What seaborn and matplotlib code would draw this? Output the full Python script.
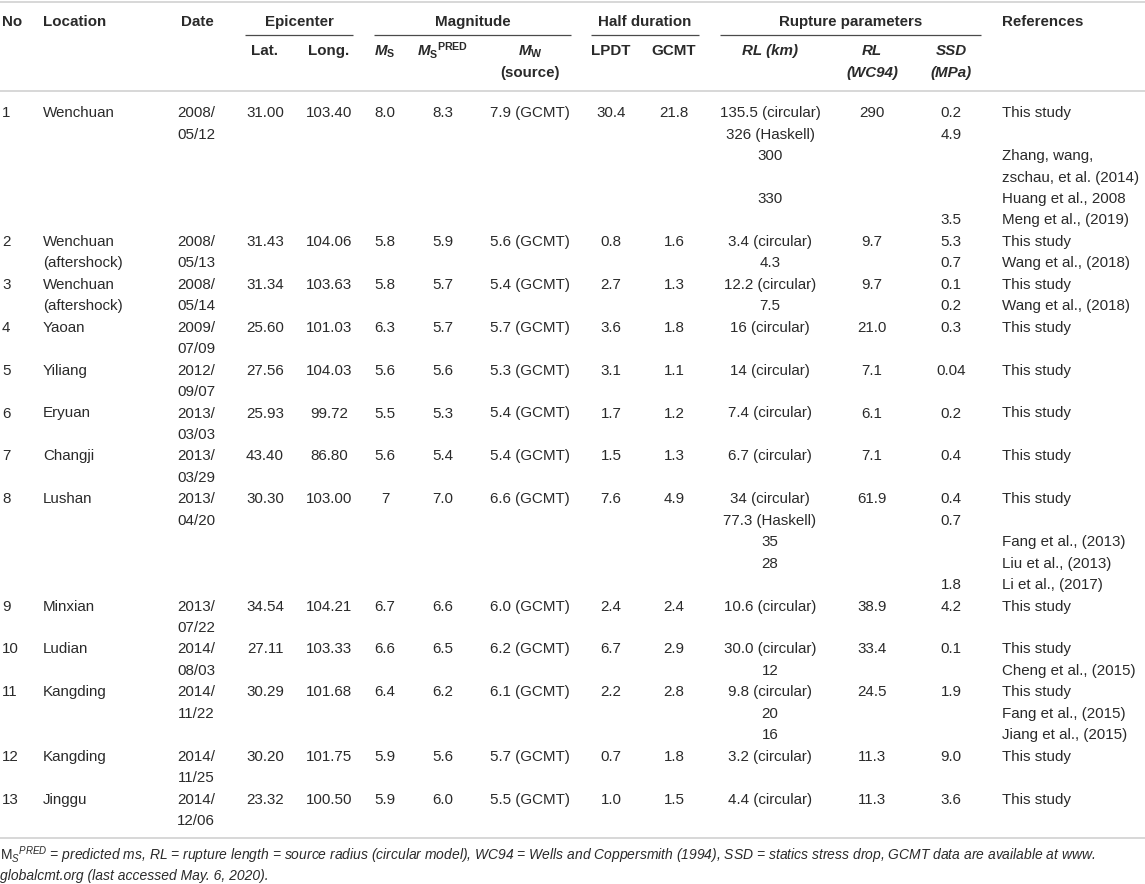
import matplotlib
matplotlib.use("Agg")
import matplotlib.pyplot as plt
import seaborn as sns

# ---------------- data ----------------
no = [str(i) for i in range(1, 14)]
location = ["Wenchuan", "Wenchuan\n(aftershock)", "Wenchuan\n(aftershock)", "Yaoan", "Yiliang",
            "Eryuan", "Changji", "Lushan", "Minxian", "Ludian", "Kangding", "Kangding", "Jinggu"]
date = ["2008/\n05/12", "2008/\n05/13", "2008/\n05/14", "2009/\n07/09", "2012/\n09/07",
        "2013/\n03/03", "2013/\n03/29", "2013/\n04/20", "2013/\n07/22", "2014/\n08/03",
        "2014/\n11/22", "2014/\n11/25", "2014/\n12/06"]
lat = ["31.00", "31.43", "31.34", "25.60", "27.56", "25.93", "43.40", "30.30", "34.54",
       "27.11", "30.29", "30.20", "23.32"]
lon = ["103.40", "104.06", "103.63", "101.03", "104.03", "99.72", "86.80", "103.00", "104.21",
       "103.33", "101.68", "101.75", "100.50"]
ms = ["8.0", "5.8", "5.8", "6.3", "5.6", "5.5", "5.6", "7", "6.7", "6.6", "6.4", "5.9", "5.9"]
ms_pred = ["8.3", "5.9", "5.7", "5.7", "5.6", "5.3", "5.4", "7.0", "6.6", "6.5", "6.2", "5.6", "6.0"]
mw = ["7.9", "5.6", "5.4", "5.7", "5.3", "5.4", "5.4", "6.6", "6.0", "6.2", "6.1", "5.7", "5.5"]
mw_source = ["GCMT"] * 13
lpdt = ["30.4", "0.8", "2.7", "3.6", "3.1", "1.7", "1.5", "7.6", "2.4", "6.7", "2.2", "0.7", "1.0"]
gcmt = ["21.8", "1.6", "1.3", "1.8", "1.1", "1.2", "1.3", "4.9", "2.4", "2.9", "2.8", "1.8", "1.5"]
rl_wc94 = ["290", "9.7", "9.7", "21.0", "7.1", "6.1", "7.1", "61.9", "38.9", "33.4", "24.5", "11.3", "11.3"]

# per-row sub-lines: rupture length (km), SSD (MPa), reference
rl_km = [
    ["135.5 (circular)", "326 (Haskell)", "300", "", "330", ""],
    ["3.4 (circular)", "4.3"],
    ["12.2 (circular)", "7.5"],
    ["16 (circular)", ""],
    ["14 (circular)", ""],
    ["7.4 (circular)", ""],
    ["6.7 (circular)", ""],
    ["34 (circular)", "77.3 (Haskell)", "35", "28", ""],
    ["10.6 (circular)", ""],
    ["30.0 (circular)", "12"],
    ["9.8 (circular)", "20", "16"],
    ["3.2 (circular)", ""],
    ["4.4 (circular)", ""],
]
ssd = [
    ["0.2", "4.9", "", "", "", "3.5"],
    ["5.3", "0.7"],
    ["0.1", "0.2"],
    ["0.3", ""],
    ["0.04", ""],
    ["0.2", ""],
    ["0.4", ""],
    ["0.4", "0.7", "", "", "1.8"],
    ["4.2", ""],
    ["0.1", ""],
    ["1.9", "", ""],
    ["9.0", ""],
    ["3.6", ""],
]
refs = [
    ["This study", "", "Zhang, wang,", "zschau, et al. (2014)", "Huang et al., 2008", "Meng et al., (2019)"],
    ["This study", "Wang et al., (2018)"],
    ["This study", "Wang et al., (2018)"],
    ["This study", ""],
    ["This study", ""],
    ["This study", ""],
    ["This study", ""],
    ["This study", "", "Fang et al., (2013)", "Liu et al., (2013)", "Li et al., (2017)"],
    ["This study", ""],
    ["This study", "Cheng et al., (2015)"],
    ["This study", "Fang et al., (2015)", "Jiang et al., (2015)"],
    ["This study", ""],
    ["This study", ""],
]

group_headers = ["Epicenter", "Magnitude", "Half duration", "Rupture parameters"]
footnote_lines = [
    "$\\mathtt{M}_{\\mathsf{S}}{}^{\\mathsf{PRED}}$ = predicted ms, RL = rupture length = source radius "
    "(circular model), WC94 = Wells and Coppersmith (1994), SSD = statics stress drop, "
    "GCMT data are available at www.",
    "globalcmt.org (last accessed May. 6, 2020).",
]

# ---------------- style ----------------
sns.set_theme(style="white")
plt.rcParams["font.family"] = ["Liberation Sans", "DejaVu Sans"]
plt.rcParams["mathtext.fontset"] = "custom"
plt.rcParams["mathtext.rm"] = "Liberation Sans:bold"
plt.rcParams["mathtext.bf"] = "Liberation Sans:bold"
plt.rcParams["mathtext.it"] = "Liberation Sans:italic:bold"
plt.rcParams["mathtext.sf"] = "Liberation Sans:italic"
plt.rcParams["mathtext.tt"] = "Liberation Sans"

TXT = "#2a2a2a"
FS = 10.9
fig = plt.figure(figsize=(11.45, 8.84), dpi=100)
ax = fig.add_axes([0, 0, 1, 1])
ax.set_xlim(0, 1145)
ax.set_ylim(884, 0)
ax.axis("off")

# layout (pixels)
X = dict(no=2, loc=43, date=196, lat=265, lon=329, ms=385, mspred=443, mw=530,
         lpdt=611, gcmt=674, rlkm=770, rlwc=872, ssd=951, ref=1002)
Y0, PITCH, BOFF = 112, 21.45, 5.2


def put(x, y, s, ha="center", **kw):
    ax.text(x, y + BOFF, s, ha=ha, va="baseline", fontsize=FS, color=TXT, **kw)


def put_multi(x, y, s, ha="center", **kw):
    for k, part in enumerate(s.split("\n")):
        if part:
            put(x, y + k * PITCH, part, ha=ha, **kw)


# header
hy1, hy2 = 21, 50
for s, x, ha in [("No", X["no"], "left"), ("Location", X["loc"], "left"),
                 ("Date", X["date"] + 1, "center"), ("References", X["ref"], "left")]:
    put(x, hy1, s, ha=ha, fontweight="bold")
spans = [(245, 353), (374, 571), (591, 699), (720, 981)]
for s, (a, b) in zip(group_headers, spans):
    put((a + b) / 2, hy1, s, fontweight="bold")
    ax.plot([a, b], [35, 35], color="#4a4a4a", lw=0.9, solid_capstyle="butt")
put(X["lat"], hy2, "Lat.", fontweight="bold")
put(X["lon"], hy2, "Long.", fontweight="bold")
put(X["ms"], hy2, "$\\mathit{M}_{\\mathrm{S}}$")
put(X["mspred"], hy2, "$\\mathit{M}_{\\mathrm{S}}{}^{\\mathrm{PRED}}$")
put(X["mw"], hy2, "$\\mathit{M}_{\\mathrm{W}}$")
put(X["mw"], hy2 + PITCH, "(source)", fontweight="bold")
put(X["lpdt"], hy2, "LPDT", fontweight="bold")
put(X["gcmt"], hy2, "GCMT", fontweight="bold")
put(X["rlkm"], hy2, "RL (km)", fontweight="bold", fontstyle="italic")
put(X["rlwc"], hy2, "RL", fontweight="bold", fontstyle="italic")
put(X["rlwc"], hy2 + PITCH, "(WC94)", fontweight="bold", fontstyle="italic")
put(X["ssd"], hy2, "SSD", fontweight="bold", fontstyle="italic")
put(X["ssd"], hy2 + PITCH, "(MPa)", fontweight="bold", fontstyle="italic")

# borders
ax.plot([0, 1145], [1.5, 1.5], color="#d4d4d4", lw=1.3)
ax.plot([0, 1145], [91, 91], color="#d4d4d4", lw=1.3)

# body
line = 0
for i in range(len(no)):
    y = Y0 + line * PITCH
    put(X["no"], y, no[i], ha="left")
    put_multi(X["loc"], y, location[i], ha="left")
    put_multi(X["date"], y, date[i])
    put(X["lat"], y, lat[i])
    put(X["lon"], y, lon[i])
    put(X["ms"], y, ms[i])
    put(X["mspred"], y, ms_pred[i])
    put(X["mw"], y, f"{mw[i]} ({mw_source[i]})")
    put(X["lpdt"], y, lpdt[i])
    put(X["gcmt"], y, gcmt[i])
    put(X["rlwc"], y, rl_wc94[i])
    n = len(rl_km[i])
    for k in range(n):
        yy = y + k * PITCH
        if rl_km[i][k]:
            put(X["rlkm"], yy, rl_km[i][k])
        if ssd[i][k]:
            put(X["ssd"], yy, ssd[i][k])
        if refs[i][k]:
            put(X["ref"], yy, refs[i][k], ha="left")
    line += n

ybot = Y0 + (line - 1) * PITCH + 18.5
ax.plot([0, 1145], [ybot, ybot], color="#d4d4d4", lw=1.3)

for k, s in enumerate(footnote_lines):
    ax.text(0, ybot + 21.5 + k * 20, s, ha="left", va="baseline", fontsize=10,
            color=TXT, fontstyle="italic")

fig.savefig("out.png", dpi=100)
